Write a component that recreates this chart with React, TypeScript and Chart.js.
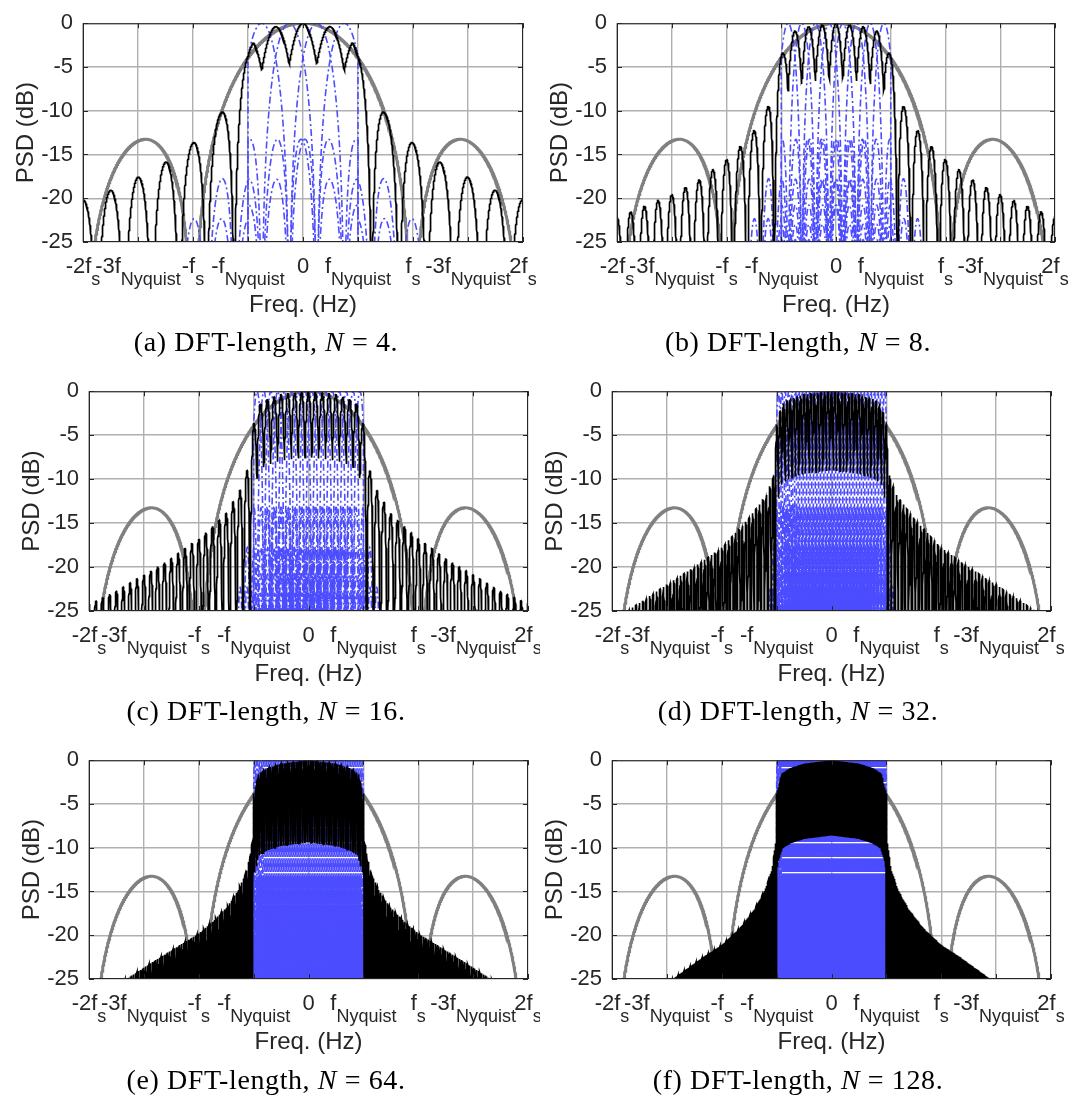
import React, { useEffect, useRef } from "react";
import { Chart, registerables } from "chart.js";

Chart.register(...registerables);

// ---------------- data ----------------
// DFT lengths shown in panels (a)..(f)
const DFT_LENGTHS = [4, 8, 16, 32, 64, 128];
const PANEL_TAGS = ["(a)", "(b)", "(c)", "(d)", "(e)", "(f)"];

// frequency axis, in multiples of fs
const X_TICKS = [-2, -1.5, -1, -0.5, 0, 0.5, 1, 1.5, 2];
const X_TICK_TEXT = ["-2f", "-3f", "-f", "-f", "0", "f", "f", "-3f", "2f"];
const X_TICK_SUB = ["s", "Nyquist", "s", "Nyquist", "", "Nyquist", "s", "Nyquist", "s"];
const Y_MIN = -25;
const Y_MAX = 0;
const Y_STEP = 5;

// in-band notch level between neighbouring bin peaks (dB), per DFT length
const NOTCH_DB = [-4.5, -6.3, -7.5, -9.0, -9.4, -8.6];

// in-band peak roll-off against |f|/fs
const ROLLOFF_F = [0, 0.25, 0.375, 0.45, 0.5];
const ROLLOFF_DB = [0, -0.4, -0.9, -1.5, -3.8];

// out-of-band lobe envelope against distance beyond f_Nyquist (in fs)
const LEAK_N4_DIST = [0, 0.25, 0.5, 0.75, 1.0, 1.25, 1.5];
const LEAK_N4_DB = [-3.8, -10.4, -13.7, -15.9, -17.6, -19.1, -20.2];
const LEAK_N8_DIST = [0, 0.125, 0.25, 0.375, 0.5, 0.75, 1.0, 1.25, 1.5];
const LEAK_N8_DB = [-3.8, -9.7, -12.3, -14.1, -15.6, -17.9, -19.6, -20.9, -22.2];
const LEAK_N16_DIST = [0, 0.0625, 0.125, 0.25, 0.5, 0.75, 1.0, 1.25, 1.5];
const LEAK_N16_DB = [-3.8, -9.2, -11.3, -13.9, -16.8, -19.0, -20.9, -22.7, -24.2];
const LEAK_N32_DIST = [0, 0.03125, 0.1, 0.29, 0.5, 0.75, 1.0, 1.36, 1.5];
const LEAK_N32_DB = [-3.8, -9.8, -12.0, -15.0, -17.8, -20.0, -22.0, -25.0, -25.8];
const LEAK_N64_DIST = [0, 0.0156, 0.064, 0.143, 0.237, 0.378, 0.5, 0.707, 0.926, 1.146, 1.5];
const LEAK_N64_DB = [-3.8, -9.7, -12.7, -14.9, -16.7, -18.5, -19.8, -21.4, -23.1, -24.9, -27.0];
const LEAK_N128_DIST = [0, 0.0078, 0.047, 0.108, 0.2, 0.336, 0.497, 0.67, 0.944, 1.5];
const LEAK_N128_DB = [-3.8, -9.7, -12.7, -14.9, -17.0, -19.2, -21.1, -22.5, -25.0, -29.0];

const LEAK_DIST = [LEAK_N4_DIST, LEAK_N8_DIST, LEAK_N16_DIST, LEAK_N32_DIST, LEAK_N64_DIST, LEAK_N128_DIST];
const LEAK_DB = [LEAK_N4_DB, LEAK_N8_DB, LEAK_N16_DB, LEAK_N32_DB, LEAK_N64_DB, LEAK_N128_DB];

// level of a single bin's sidelobes once they fall outside the Nyquist band
const BIN_OUT_OF_BAND_DB = -4.5;

// ---------------- styling / layout ----------------
const TEXT_COLOR = "#262626";
const GRID_COLOR = "#b0b0b0";
const BIN_COLOR = "rgb(77,77,255)";
const TOTAL_COLOR = "#000000";
const HOLD_COLOR = "#808080";
const SANS = '"Liberation Sans", Arial, Helvetica, sans-serif';
const CANVAS_H = 330;

const PANELS = [
  { left: 0, top: 0, width: 540, plot: [83, 14, 523, 242] },
  { left: 540, top: 0, width: 532, plot: [617, 14, 1055, 242] },
  { left: 0, top: 368, width: 540, plot: [89, 382, 528, 611] },
  { left: 540, top: 368, width: 532, plot: [612, 382, 1051, 611] },
  { left: 0, top: 737, width: 540, plot: [89, 751, 528, 979] },
  { left: 540, top: 737, width: 532, plot: [612, 751, 1051, 979] },
];
const CAPTION_X = [266, 798];
const CAPTION_TOP = [326, 695, 1064];

// ---------------- spectra ----------------
const FLOOR_DB = -80;
const toDb = (p: number) => (p > 0 ? Math.max(10 * Math.log10(p), FLOOR_DB) : FLOOR_DB);
const sinc = (v: number) => (v === 0 ? 1 : Math.sin(Math.PI * v) / (Math.PI * v));

function interp(xs: number[], ys: number[], v: number): number {
  const n = xs.length;
  if (v <= xs[0]) return ys[0];
  if (v >= xs[n - 1]) {
    const s = (ys[n - 1] - ys[n - 2]) / (xs[n - 1] - xs[n - 2]);
    return ys[n - 1] + s * (v - xs[n - 1]);
  }
  for (let i = 1; i < n; i++) {
    if (v <= xs[i]) {
      const t = (v - xs[i - 1]) / (xs[i] - xs[i - 1]);
      return ys[i - 1] + t * (ys[i] - ys[i - 1]);
    }
  }
  return ys[n - 1];
}

type Pt = { x: number; y: number };

// zero-order-hold reference, sinc^2(f/fs)
function holdCurve(): Pt[] {
  const pts: Pt[] = [];
  for (let i = -800; i <= 800; i++) {
    const f = i / 400;
    const s = sinc(f);
    pts.push({ x: f, y: toDb(s * s) });
  }
  return pts;
}

// total PSD; x is frequency in bins (f = x * fs / N)
function totalDb(x: number, idx: number): number {
  const N = DFT_LENGTHS[idx];
  const half = N / 2;
  const u = Math.abs(x) / N;
  if (Math.abs(x) <= half) {
    const p = Math.pow(10, interp(ROLLOFF_F, ROLLOFF_DB, u) / 10);
    const b = Math.pow(10, NOTCH_DB[idx] / 20);
    const m = (1 - b) * Math.abs(Math.cos(Math.PI * x)) + b;
    return toDb(p * m * m);
  }
  const env = Math.pow(10, interp(LEAK_DIST[idx], LEAK_DB[idx], u - 0.5) / 10);
  const c = Math.cos(Math.PI * x);
  return toDb(env * c * c);
}

function totalCurve(idx: number): Pt[] {
  const N = DFT_LENGTHS[idx];
  const ppb = Math.max(16, 2 * Math.round(500 / N));
  const pts: Pt[] = [];
  const lim = 2 * N * ppb;
  for (let i = -lim; i <= lim; i++) {
    const x = i / ppb;
    pts.push({ x: x / N, y: totalDb(x, idx) });
  }
  return pts;
}

// one DFT bin centred at c (in bins); drawn in band, with weak leakage outside
function binDb(x: number, c: number, half: number): number {
  const d = x - c;
  const s = sinc(d);
  if (Math.abs(x) > half) {
    if (Math.abs(d) < 1) return FLOOR_DB;
    return toDb(s * s * Math.pow(10, BIN_OUT_OF_BAND_DB / 10));
  }
  return toDb(s * s);
}

function binCurves(idx: number): Pt[][] {
  const N = DFT_LENGTHS[idx];
  const half = N / 2;
  const ppb = Math.max(16, 2 * Math.round(200 / N));
  const curves: Pt[][] = [];
  for (let k = 0; k < N; k++) {
    const c = k - half + 0.5;
    const pts: Pt[] = [];
    const i0 = Math.max(Math.round((c - 6) * ppb), -2 * N * ppb);
    const i1 = Math.min(Math.round((c + 6) * ppb), 2 * N * ppb);
    for (let i = i0; i <= i1; i++) {
      const x = i / ppb;
      pts.push({ x: x / N, y: binDb(x, c, half) });
      if (Math.abs(Math.abs(x) - half) < 1e-9) {
        // step at the band edge
        const outside = x > 0 ? x + 1e-6 : x - 1e-6;
        const yIn = binDb(x, c, half);
        const yOut = binDb(outside, c, half);
        if (x < 0) {
          pts.splice(pts.length - 1, 1, { x: x / N, y: yOut }, { x: x / N, y: yIn });
        } else {
          pts.push({ x: x / N, y: yOut });
        }
      }
    }
    curves.push(pts);
  }
  return curves;
}

// ---------------- frame, ticks and labels ----------------
const framePlugin = {
  id: "psdFrame",
  afterDraw(chart: any) {
    const { ctx, chartArea: a, scales } = chart;
    const xs = scales.x;
    const ys = scales.y;
    ctx.save();
    ctx.strokeStyle = TEXT_COLOR;
    ctx.lineWidth = 1;
    ctx.strokeRect(a.left + 0.5, a.top + 0.5, a.right - a.left - 1, a.bottom - a.top - 1);
    const tl = 5;
    ctx.beginPath();
    for (const t of X_TICKS) {
      const p = Math.round(xs.getPixelForValue(t)) + 0.5;
      ctx.moveTo(p, a.bottom);
      ctx.lineTo(p, a.bottom - tl);
      ctx.moveTo(p, a.top);
      ctx.lineTo(p, a.top + tl);
    }
    for (let v = Y_MIN; v <= Y_MAX; v += Y_STEP) {
      const p = Math.round(ys.getPixelForValue(v)) + 0.5;
      ctx.moveTo(a.left, p);
      ctx.lineTo(a.left + tl, p);
      ctx.moveTo(a.right, p);
      ctx.lineTo(a.right - tl, p);
    }
    ctx.stroke();

    ctx.fillStyle = TEXT_COLOR;
    ctx.textBaseline = "alphabetic";
    ctx.textAlign = "left";
    const mainFont = `22px ${SANS}`;
    const subFont = `18px ${SANS}`;
    X_TICKS.forEach((t, i) => {
      const p = xs.getPixelForValue(t);
      ctx.font = mainFont;
      const w1 = ctx.measureText(X_TICK_TEXT[i]).width;
      ctx.font = subFont;
      const w2 = X_TICK_SUB[i] ? ctx.measureText(X_TICK_SUB[i]).width : 0;
      const x0 = p - (w1 + w2) / 2;
      ctx.font = mainFont;
      ctx.fillText(X_TICK_TEXT[i], x0, a.bottom + 31);
      if (X_TICK_SUB[i]) {
        ctx.font = subFont;
        ctx.fillText(X_TICK_SUB[i], x0 + w1, a.bottom + 43);
      }
    });

    ctx.font = `24px ${SANS}`;
    ctx.textAlign = "center";
    ctx.fillText("Freq. (Hz)", (a.left + a.right) / 2, a.bottom + 70);

    ctx.translate(a.left - 50, (a.top + a.bottom) / 2);
    ctx.rotate(-Math.PI / 2);
    ctx.fillText("PSD (dB)", 0, 0);
    ctx.restore();
  },
};

function Panel({ index }: { index: number }) {
  const ref = useRef<HTMLCanvasElement | null>(null);
  const g = PANELS[index];

  useEffect(() => {
    const [L, T, R, B] = g.plot;
    const padLeft = L - g.left;
    const padTop = T - g.top;
    const padRight = g.left + g.width - R;
    const xAxisH = g.top + CANVAS_H - B;

    const datasets: any[] = [];
    datasets.push({
      data: totalCurve(index),
      borderColor: TOTAL_COLOR,
      borderWidth: 1.7,
      order: 0,
    });
    for (const pts of binCurves(index)) {
      datasets.push({
        data: pts,
        borderColor: BIN_COLOR,
        borderWidth: 1.6,
        borderDash: [7, 3, 2, 3],
        order: 1,
      });
    }
    datasets.push({
      data: holdCurve(),
      borderColor: HOLD_COLOR,
      borderWidth: 3,
      order: 2,
    });

    const chart = new Chart(ref.current as HTMLCanvasElement, {
      type: "line",
      data: { datasets },
      options: {
        animation: false,
        responsive: false,
        events: [],
        parsing: false,
        layout: { padding: { left: 0, top: padTop, right: padRight, bottom: 0 } },
        elements: { point: { radius: 0 }, line: { tension: 0, fill: false } },
        plugins: { legend: { display: false }, tooltip: { enabled: false } },
        scales: {
          x: {
            type: "linear",
            min: -2,
            max: 2,
            ticks: { display: false, stepSize: 0.5 },
            grid: { color: GRID_COLOR, lineWidth: 1.4, drawTicks: false },
            border: { display: false },
            afterFit: (s: any) => {
              s.height = xAxisH;
            },
          },
          y: {
            type: "linear",
            min: Y_MIN,
            max: Y_MAX,
            ticks: {
              stepSize: Y_STEP,
              color: TEXT_COLOR,
              padding: 10,
              font: { family: SANS, size: 22 },
            },
            grid: { color: GRID_COLOR, lineWidth: 1.4, drawTicks: false },
            border: { display: false },
            afterFit: (s: any) => {
              s.width = padLeft;
            },
          },
        },
      } as any,
      plugins: [framePlugin],
    });
    return () => chart.destroy();
  }, [index]);

  return (
    <canvas
      ref={ref}
      width={g.width}
      height={CANVAS_H}
      style={{ position: "absolute", left: g.left, top: g.top, width: g.width, height: CANVAS_H }}
    />
  );
}

function Caption({ index }: { index: number }) {
  const cx = CAPTION_X[index % 2];
  const top = CAPTION_TOP[Math.floor(index / 2)];
  return (
    <div
      style={{
        position: "absolute",
        left: cx - 260,
        width: 520,
        top,
        textAlign: "center",
        fontFamily: '"Liberation Serif", "Times New Roman", serif',
        fontSize: 28,
        letterSpacing: "0.6px",
        lineHeight: "32px",
        color: "#000",
        whiteSpace: "nowrap",
      }}
    >
      {PANEL_TAGS[index]} DFT-length, <i>N</i>&nbsp;=&nbsp;{DFT_LENGTHS[index]}.
    </div>
  );
}

export default function App() {
  return (
    <div
      style={{
        position: "absolute",
        left: 0,
        top: 0,
        width: 1072,
        height: 1107,
        background: "#ffffff",
        overflow: "hidden",
      }}
    >
      {DFT_LENGTHS.map((_, i) => (
        <Panel key={`p${i}`} index={i} />
      ))}
      {DFT_LENGTHS.map((_, i) => (
        <Caption key={`c${i}`} index={i} />
      ))}
    </div>
  );
}
